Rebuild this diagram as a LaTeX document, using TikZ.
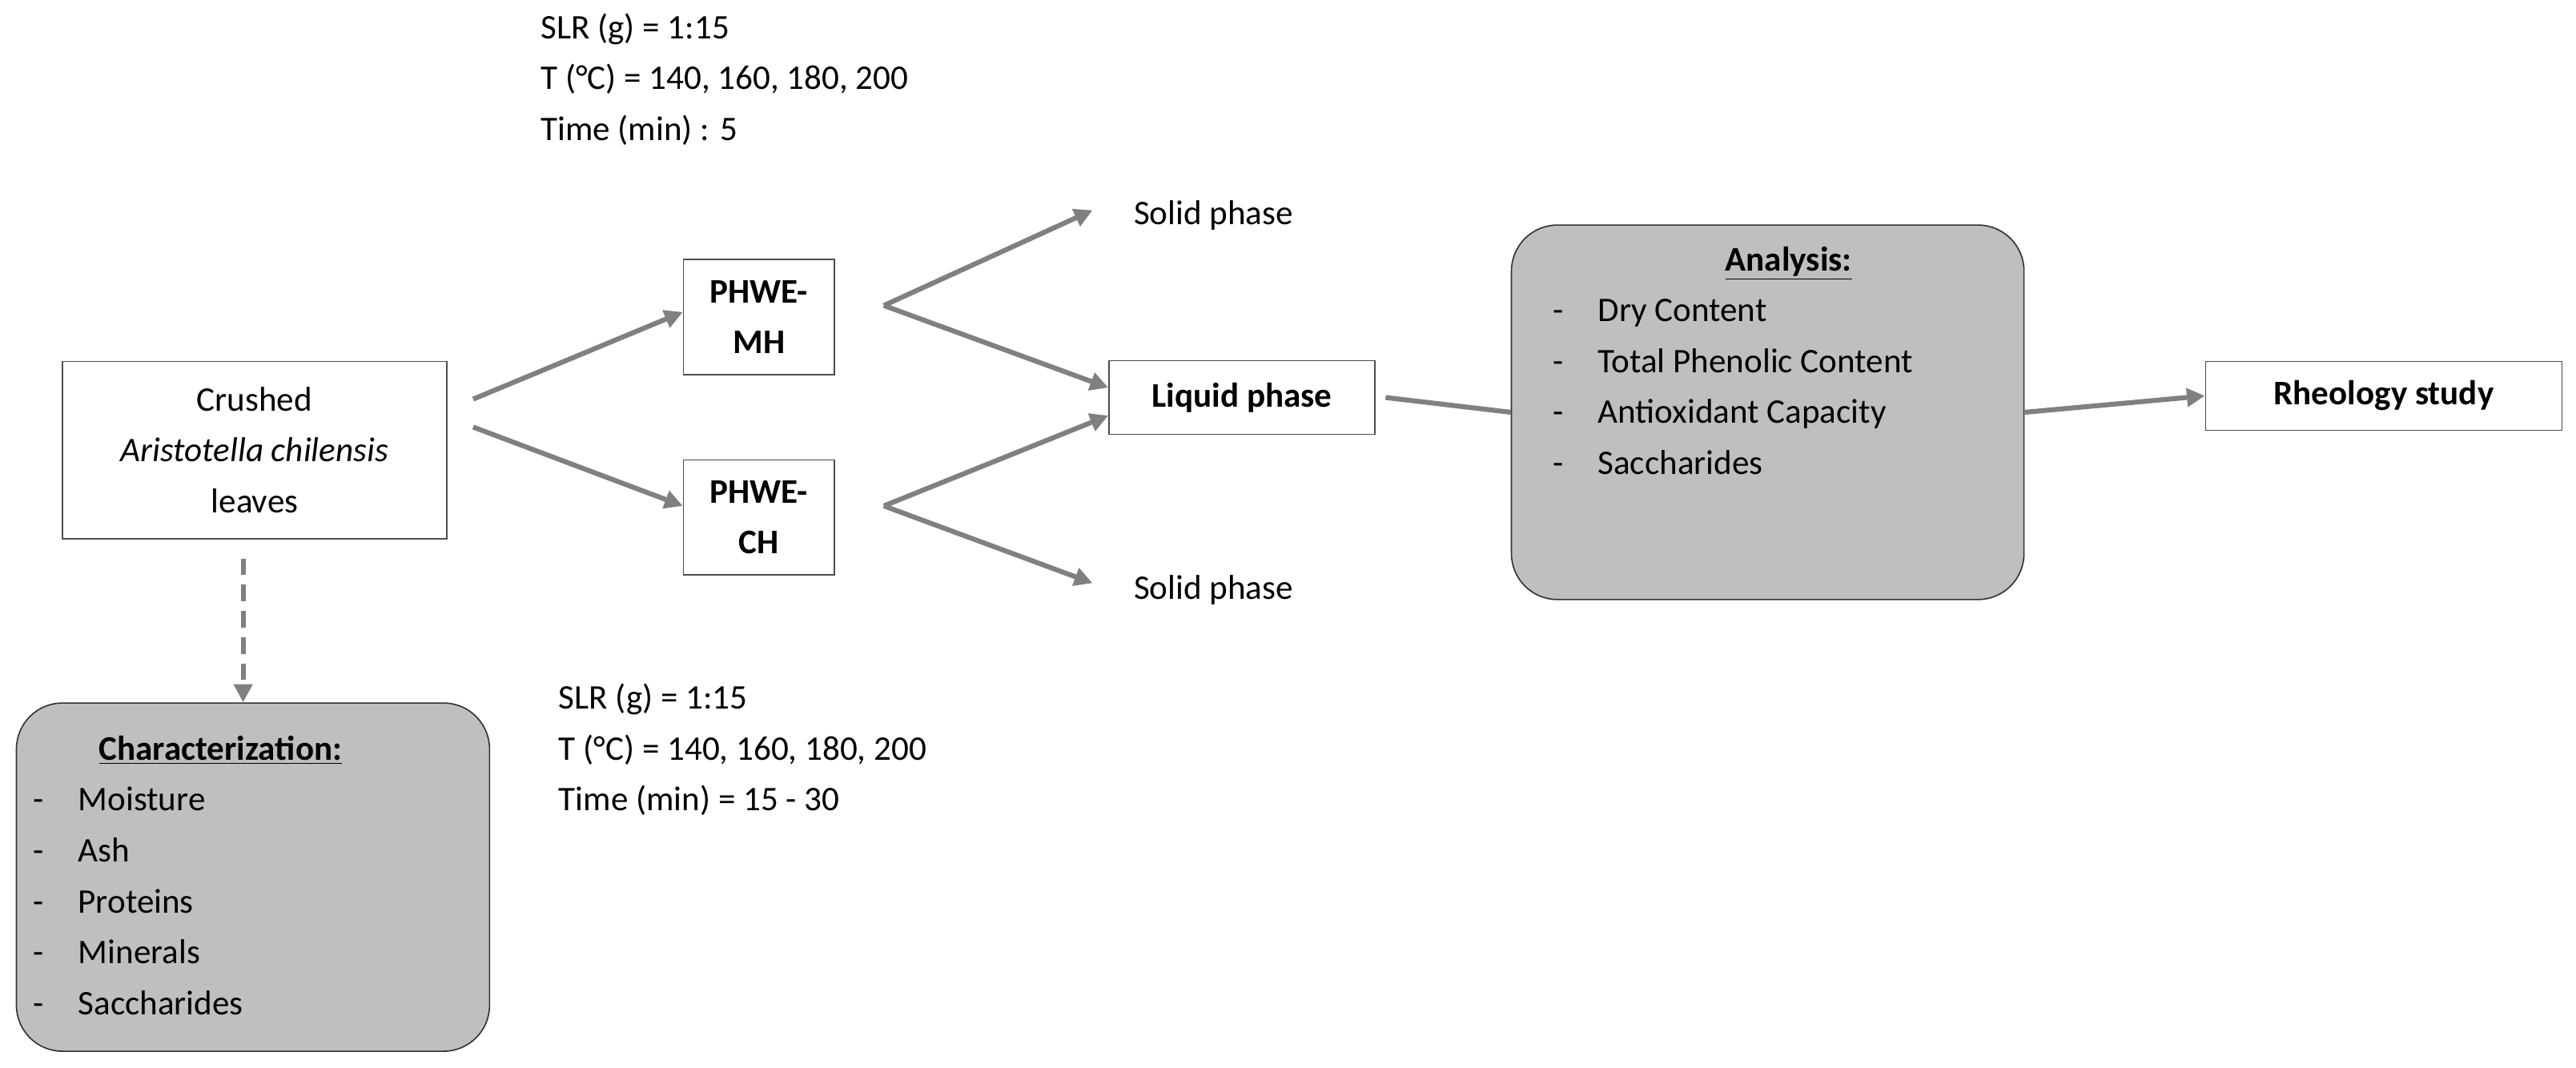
\documentclass[tikz,border=0pt]{standalone}
\usepackage{fontspec}
\setmainfont{Carlito}
\usetikzlibrary{arrows.meta}
\definecolor{ar}{HTML}{808080}
\definecolor{gb}{HTML}{BFBFBF}
\begin{document}
\begin{tikzpicture}[x=1pt,y=-1pt,
  every node/.style={font=\fontsize{21}{31}\selectfont},
  box/.style={draw=black!70,line width=0.8pt,fill=white,align=center,inner sep=0pt},
  gbox/.style={draw=black!80,line width=0.8pt,fill=gb,rounded corners=28pt,inner sep=0pt},
  arr/.style={draw=ar,line width=3pt,-{Triangle[length=11pt,width=11pt]}},
  txt/.style={anchor=north west,align=left,inner sep=0pt}]
\useasboundingbox (0,0) rectangle (1568,650);
\node[txt] (top) at (329,8) {SLR (g) = 1:15\\T (°C) = 140, 160, 180, 200\\Time (min) : 5};
\node[txt] (bot) at (340,416) {SLR (g) = 1:15\\T (°C) = 140, 160, 180, 200\\Time (min) = 15 - 30};
\node[box,minimum width=234pt,minimum height=108pt] (cr) at (155,274) {Crushed\\\textit{Aristotella chilensis}\\leaves};
\node[gbox,minimum width=288pt,minimum height=212pt] (ch) at (154,534) {};
\node[txt] at (60,448) {\textbf{\underline{Characterization:}}};
\node[txt] at (20,479) {-\quad Moisture\\-\quad Ash\\-\quad Proteins\\-\quad Minerals\\-\quad Saccharides};
\node[box,minimum width=92pt,minimum height=70pt] (mh) at (462,193) {\textbf{PHWE-}\\\textbf{MH}};
\node[box,minimum width=92pt,minimum height=70pt] (chh) at (462,315) {\textbf{PHWE-}\\\textbf{CH}};
\node[box,minimum width=162pt,minimum height=45pt] (lq) at (756,242) {\textbf{Liquid phase}};
\node[anchor=west,inner sep=0pt] (s1) at (690,131) {Solid phase};
\node[anchor=west,inner sep=0pt] (s2) at (690,359) {Solid phase};
\node[gbox,minimum width=312pt,minimum height=228pt] (an) at (1076,251) {};
\node[txt] at (1050,150) {\textbf{\underline{Analysis:}}};
\node[txt] at (945,182) {-\quad Dry Content\\-\quad Total Phenolic Content\\-\quad Antioxidant Capacity\\-\quad Saccharides};
\node[box,minimum width=217pt,minimum height=42pt] (rh) at (1451,241) {\textbf{Rheology study}};
\coordinate (d1) at (148,340);
\draw[arr,dashed,dash pattern=on 10pt off 6pt] (d1) -- (ch.north -| d1);
\coordinate (c1) at (288,243); \coordinate (c2) at (288,260);
\draw[arr] (c1) -- (mh.west |- 0,190);
\draw[arr] (c2) -- (chh.west |- 0,308);
\coordinate (m0) at (538,186); \coordinate (k0) at (538,308);
\draw[arr] (m0) -- (665,128);
\draw[arr] (m0) -- (lq.west |- 0,236);
\draw[arr] (k0) -- (lq.west |- 0,253);
\draw[arr] (k0) -- (665,355);
\draw[draw=ar,line width=3pt] (lq.east) ++(6,0) -- (an.west);
\draw[arr] (an.east) -- (rh.west);
\end{tikzpicture}
\end{document}
